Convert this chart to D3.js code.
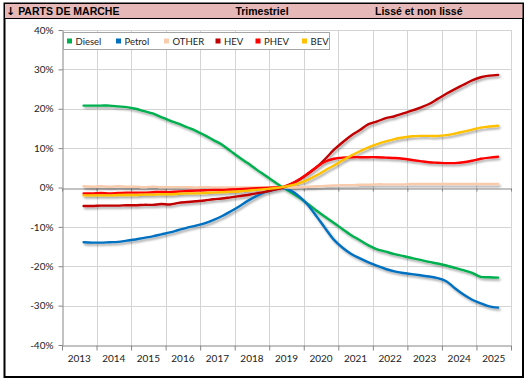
<!DOCTYPE html>
<html><head><meta charset="utf-8">
<script src="https://cdn.jsdelivr.net/npm/d3@7"></script>
<style>body{margin:0;background:#fff} svg{display:block}</style>
</head><body><svg id="c" width="531" height="383"></svg>
<script>
const quarters = ["2013T3","2013T4",
 "2014T1","2014T2","2014T3","2014T4","2015T1","2015T2","2015T3","2015T4",
 "2016T1","2016T2","2016T3","2016T4","2017T1","2017T2","2017T3","2017T4",
 "2018T1","2018T2","2018T3","2018T4","2019T1","2019T2","2019T3","2019T4",
 "2020T1","2020T2","2020T3","2020T4","2021T1","2021T2","2021T3","2021T4",
 "2022T1","2022T2","2022T3","2022T4","2023T1","2023T2","2023T3","2023T4",
 "2024T1","2024T2","2024T3","2024T4","2025T1","2025T2","2025T3"];
const years = ["2013","2014","2015","2016","2017","2018","2019","2020","2021","2022","2023","2024","2025"];
const yTicks = [-40,-30,-20,-10,0,10,20,30,40];
const seriesNames = ["Diesel","Petrol","OTHER","HEV","PHEV","BEV"];
const seriesColors = ["#00B050","#0070C0","#F8CBAD","#C00000","#FF0000","#FFC000"];

const diesel = [20.8,20.8,20.8,20.8,20.6,20.4,20.0,19.4,18.8,17.9,17.0,16.2,15.3,14.4,13.3,12.1,10.9,9.3,7.7,6.2,4.6,3.1,1.6,0.1,-1.2,-2.6,-4.2,-5.9,-7.5,-9.0,-10.6,-12.1,-13.4,-14.7,-15.7,-16.3,-16.9,-17.4,-17.9,-18.4,-18.9,-19.3,-19.8,-20.4,-21.0,-21.7,-22.7,-22.8,-22.9];
const petrol = [-13.9,-14.0,-14.0,-13.9,-13.8,-13.5,-13.2,-12.8,-12.4,-11.9,-11.4,-10.8,-10.2,-9.7,-9.1,-8.3,-7.3,-6.1,-4.8,-3.4,-2.2,-1.2,-0.6,-0.1,-0.8,-2.3,-4.5,-7.4,-10.4,-13.3,-15.3,-16.9,-18.0,-19.0,-19.9,-20.7,-21.3,-21.7,-22.0,-22.3,-22.6,-23.0,-23.8,-25.6,-27.2,-28.5,-29.4,-30.2,-30.5];
const other = [0.3,0.2,0.3,0.2,0.3,0.2,0.2,0.1,0.2,0.1,0.1,0.1,0.1,0.0,0.1,0.0,0.0,0.0,0.0,0.0,0.0,0.0,0.0,0.0,0.0,0.1,0.2,0.3,0.4,0.5,0.6,0.6,0.7,0.7,0.8,0.8,0.8,0.8,0.9,0.9,0.9,0.9,0.9,0.9,0.9,0.9,0.9,0.9,0.9];
const hev = [-4.7,-4.7,-4.6,-4.6,-4.6,-4.5,-4.5,-4.4,-4.4,-4.2,-4.3,-3.9,-3.7,-3.5,-3.3,-3.0,-2.8,-2.5,-2.2,-1.9,-1.5,-1.1,-0.6,-0.1,0.8,2.0,3.5,5.2,7.3,9.6,11.5,13.2,14.6,16.1,16.8,17.6,18.1,18.8,19.5,20.3,21.2,22.5,23.8,25.0,26.1,27.2,28.0,28.4,28.6];
const phev = [-1.5,-1.5,-1.4,-1.5,-1.4,-1.3,-1.3,-1.3,-1.2,-1.1,-1.2,-1.0,-0.9,-0.8,-0.7,-0.6,-0.6,-0.5,-0.4,-0.3,-0.2,-0.1,0.0,0.1,0.9,2.1,3.6,5.2,6.6,7.3,7.6,7.7,7.7,7.7,7.7,7.6,7.5,7.3,7.0,6.7,6.4,6.3,6.2,6.2,6.4,6.8,7.3,7.6,7.8];
const bev = [-2.0,-2.0,-2.0,-2.0,-1.9,-1.9,-1.9,-1.8,-1.8,-1.7,-1.7,-1.6,-1.5,-1.5,-1.4,-1.3,-1.2,-1.1,-1.0,-0.8,-0.6,-0.4,-0.2,0.1,0.5,1.1,2.0,3.1,4.4,5.6,6.9,8.1,9.2,10.2,11.0,11.7,12.3,12.7,13.0,13.1,13.1,13.1,13.3,13.7,14.2,14.7,15.2,15.5,15.7];
const seriesValues = [diesel, petrol, other, hev, phev, bev];

const svg = d3.select("#c");
const defs = svg.append("defs");
const flt = defs.append("filter").attr("id","sh").attr("x","-5%").attr("y","-5%").attr("width","110%").attr("height","110%");
flt.append("feDropShadow").attr("dx",1.5).attr("dy",2).attr("stdDeviation",0.9)
   .attr("flood-color","#000").attr("flood-opacity",0.35);

// frame & header
svg.append("rect").attr("x",4.5).attr("y",3.5).attr("width",518.5).attr("height",373.5)
   .attr("fill","#fff").attr("stroke","#000").attr("stroke-width",2);
svg.append("rect").attr("x",4.5).attr("y",3.5).attr("width",518.5).attr("height",15)
   .attr("fill","#E6B8B7").attr("stroke","#000").attr("stroke-width",1);
const hdr = svg.append("g").attr("font-family","Liberation Sans, Arial, sans-serif")
   .attr("font-weight","bold").attr("font-size","10.5px").attr("fill","#000");
const t1 = hdr.append("text").attr("x",6).attr("y",15);
t1.append("tspan").attr("font-family","DejaVu Sans").attr("font-size","11px").text("↓");
t1.append("tspan").text(" PARTS DE MARCHE");
hdr.append("text").attr("x",262).attr("y",15).attr("text-anchor","middle").text("Trimestriel");
hdr.append("text").attr("x",375).attr("y",15).text("Lissé et non lissé");

const x = d3.scaleLinear().domain([2013,2026]).range([62,511]);
const y = d3.scaleLinear().domain([-40,40]).range([345,30]);
const qt = quarters.map(q => +q.slice(0,4) + (+q.slice(5) - 0.5)/4);
const bounds = d3.range(2013, 2027);

// grid
const grid = svg.append("g").attr("stroke","#D4D4D4").attr("stroke-width",1);
grid.selectAll("line.h").data(yTicks.filter(d=>d!==0 && d!==-40)).enter().append("line")
  .attr("x1",62).attr("x2",511).attr("y1",d=>Math.round(y(d))+0.5).attr("y2",d=>Math.round(y(d))+0.5);
grid.selectAll("line.v").data(bounds.slice(1)).enter().append("line")
  .attr("y1",30).attr("y2",345).attr("x1",d=>Math.round(x(d))+0.5).attr("x2",d=>Math.round(x(d))+0.5);

// zero axis line with ticks
const z = svg.append("g").attr("transform",`translate(0,${Math.round(y(0))+0.5})`);
z.call(d3.axisBottom(x).tickValues(bounds).tickSize(3).tickSizeOuter(0).tickFormat(""));
z.selectAll("path,line").attr("stroke","#868686");

// bottom axis
const bx = svg.append("g").attr("transform",`translate(0,${Math.round(y(-40))+0.5})`);
bx.call(d3.axisBottom(x).tickValues(bounds).tickSize(5).tickSizeOuter(0).tickFormat(""));
bx.selectAll("path,line").attr("stroke","#868686");
svg.append("g").selectAll("text").data(years).enter().append("text")
  .attr("x",d=>x(+d+0.5)).attr("y",362).attr("text-anchor","middle")
  .attr("font-family","Lato, sans-serif").attr("font-size","10px").attr("fill","#222").text(d=>d);

// y axis
const ya = svg.append("g").attr("transform","translate(62.5,0)");
ya.call(d3.axisLeft(y).tickValues(yTicks).tickSize(4).tickSizeOuter(0).tickPadding(5).tickFormat(d=>d+"%"));
ya.selectAll("path,line").attr("stroke","#868686");
ya.selectAll("text").attr("font-family","Lato, sans-serif").attr("font-size","10px").attr("fill","#222");

// lines
const line = d3.line().x((d,i)=>x(qt[i])).y(d=>y(d)).curve(d3.curveCatmullRom.alpha(0.5));
svg.append("g").attr("filter","url(#sh)").selectAll("path").data(seriesValues).enter().append("path")
  .attr("d",line).attr("fill","none").attr("stroke",(d,i)=>seriesColors[i])
  .attr("stroke-width",2.4).attr("stroke-linejoin","round").attr("stroke-linecap","round");

// legend
const lg = svg.append("g");
lg.append("rect").attr("x",63.5).attr("y",32.5).attr("width",266).attr("height",17)
  .attr("fill","#fff").attr("stroke","#A6A6A6");
const lx = [67, 116, 164, 215.5, 255.5, 302];
const items = lg.selectAll("g.it").data(seriesNames).enter().append("g");
items.append("rect").attr("x",(d,i)=>lx[i]).attr("y",38.5).attr("width",5).attr("height",5)
  .attr("fill",(d,i)=>seriesColors[i]);
items.append("text").attr("x",(d,i)=>lx[i]+8.5).attr("y",45)
  .attr("font-family","Lato, sans-serif").attr("font-size","9.5px").attr("fill","#222").text(d=>d);
</script></body></html>
